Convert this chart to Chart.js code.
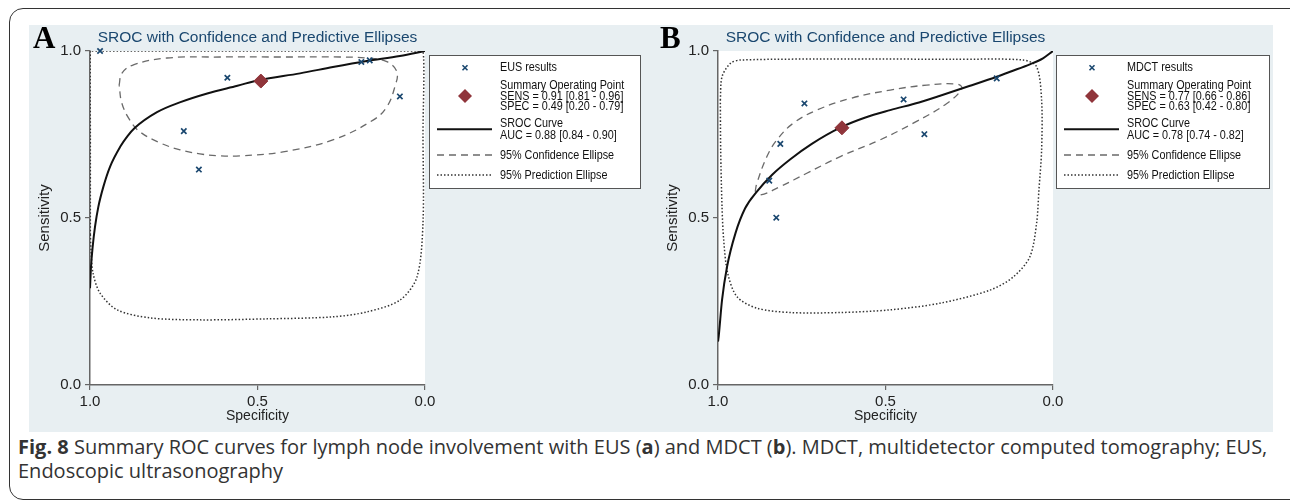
<!DOCTYPE html>
<html>
<head>
<meta charset="utf-8">
<script src="https://cdn.jsdelivr.net/npm/chart.js@4/dist/chart.umd.min.js"></script>
<style>
  body { margin: 0; background: #fff; width: 1290px; height: 504px; overflow: hidden; position: relative; font-family: "Liberation Sans", Arial, sans-serif; }
  #frame { position: absolute; left: 9px; top: 8px; width: 1320px; height: 490px; border: 1.5px solid #333; border-radius: 14px; }
  #panel { position: absolute; left: 29px; top: 25px; width: 1244px; height: 407px; background: #e8eff2; }
  canvas { position: absolute; top: 25px; }
  #chartA { left: 29px; }
  #chartB { left: 650px; }
  #caption { position: absolute; left: 18px; top: 435px; width: 1270px; font-family: "Open Sans", sans-serif; font-size: 20px; line-height: 24px; color: #333; white-space: nowrap; }
</style>
</head>
<body>
<div id="frame"></div>
<div id="panel"></div>
<canvas id="chartA" width="621" height="407"></canvas>
<canvas id="chartB" width="623" height="407"></canvas>
<div id="caption"><b>Fig. 8</b> Summary ROC curves for lymph node involvement with EUS (<b>a</b>) and MDCT (<b>b</b>). MDCT, multidetector computed tomography; EUS,<br>Endoscopic ultrasonography</div>

<script>
// ---- data (x = specificity, y = sensitivity) ----
const tickLabels = ['0.0', '0.5', '1.0'];
const titleText = 'SROC with Confidence and Predictive Ellipses';

// panel A : EUS
const eusSpec = [0.97, 0.59, 0.72, 0.675, 0.19, 0.165, 0.075];
const eusSens = [1.0, 0.92, 0.76, 0.645, 0.967, 0.972, 0.864];
const eusSummarySpec = [0.49];
const eusSummarySens = [0.91];
const eusSrocSpec = [1.0, 0.997, 0.992, 0.985, 0.975, 0.96, 0.94, 0.91, 0.888, 0.866, 0.8, 0.73, 0.65, 0.56, 0.495, 0.373, 0.275, 0.174, 0.075, 0.0];
const eusSrocSens = [0.29, 0.354, 0.414, 0.474, 0.534, 0.594, 0.654, 0.713, 0.745, 0.77, 0.817, 0.847, 0.873, 0.896, 0.913, 0.933, 0.952, 0.97, 0.985, 1.0];
const eusConfSpec = [0.913, 0.905, 0.872, 0.77, 0.612, 0.433, 0.254, 0.173, 0.114, 0.084, 0.09, 0.114, 0.155, 0.275, 0.424, 0.552, 0.612, 0.672, 0.731, 0.791, 0.851, 0.881, 0.905, 0.913];
const eusConfSens = [0.898, 0.933, 0.958, 0.979, 0.982, 0.982, 0.982, 0.979, 0.968, 0.938, 0.893, 0.833, 0.793, 0.734, 0.698, 0.686, 0.686, 0.692, 0.704, 0.725, 0.758, 0.793, 0.844, 0.898];
const eusPredSpec = [0.999, 0.999, 0.999, 0.75, 0.5, 0.25, 0.006, 0.006, 0.006, 0.024, 0.075, 0.173, 0.275, 0.472, 0.672, 0.821, 0.919, 0.97, 0.991, 0.997, 0.999];
const eusPredSens = [0.45, 0.75, 1.0, 1.0, 1.0, 1.0, 1.0, 0.75, 0.485, 0.323, 0.254, 0.219, 0.204, 0.198, 0.195, 0.201, 0.225, 0.275, 0.335, 0.404, 0.45];
const eusLegend = [
  ['EUS results'],
  ['Summary Operating Point', 'SENS = 0.91 [0.81 - 0.96]', 'SPEC = 0.49 [0.20 - 0.79]'],
  ['SROC Curve', 'AUC = 0.88 [0.84 - 0.90]'],
  ['95% Confidence Ellipse'],
  ['95% Prediction Ellipse']
];

// panel B : MDCT
const mdctSpec = [0.742, 0.446, 0.384, 0.814, 0.847, 0.826, 0.168];
const mdctSens = [0.843, 0.855, 0.751, 0.722, 0.612, 0.501, 0.918];
const mdctSummarySpec = [0.63];
const mdctSummarySens = [0.77];
const mdctSrocSpec = [1.0, 0.998, 0.988, 0.973, 0.948, 0.919, 0.884, 0.839, 0.784, 0.72, 0.632, 0.56, 0.486, 0.4, 0.337, 0.25, 0.168, 0.128, 0.069, 0.03, 0.0];
const mdctSrocSens = [0.13, 0.145, 0.254, 0.354, 0.454, 0.529, 0.579, 0.629, 0.676, 0.722, 0.772, 0.801, 0.823, 0.846, 0.866, 0.895, 0.923, 0.938, 0.96, 0.978, 1.0];
const mdctConfSpec = [0.889, 0.884, 0.854, 0.824, 0.775, 0.705, 0.605, 0.486, 0.377, 0.287, 0.272, 0.317, 0.417, 0.516, 0.635, 0.735, 0.814, 0.874, 0.889];
const mdctConfSens = [0.579, 0.604, 0.684, 0.734, 0.784, 0.823, 0.858, 0.883, 0.898, 0.901, 0.888, 0.843, 0.784, 0.734, 0.684, 0.634, 0.594, 0.569, 0.579];
const mdctPredSpec = [0.993, 0.988, 0.963, 0.933, 0.605, 0.3, 0.089, 0.049, 0.034, 0.034, 0.042, 0.049, 0.069, 0.118, 0.188, 0.337, 0.486, 0.635, 0.784, 0.884, 0.943, 0.971, 0.983, 0.988, 0.992, 0.993];
const mdctPredSens = [0.853, 0.923, 0.963, 0.973, 0.976, 0.975, 0.973, 0.953, 0.853, 0.704, 0.584, 0.484, 0.384, 0.324, 0.284, 0.245, 0.225, 0.217, 0.217, 0.23, 0.264, 0.334, 0.434, 0.534, 0.704, 0.853];
const mdctLegend = [
  ['MDCT results'],
  ['Summary Operating Point', 'SENS = 0.77 [0.66 - 0.86]', 'SPEC = 0.63 [0.42 - 0.80]'],
  ['SROC Curve', 'AUC = 0.78 [0.74 - 0.82]'],
  ['95% Confidence Ellipse'],
  ['95% Prediction Ellipse']
];

const NAVY = '#1a476f';
const MAROON = '#90353b';

function pts(xs, ys) {
  return xs.map((x, i) => ({ x: x, y: ys[i] }));
}

// white plot region
const plotBg = {
  id: 'plotBg',
  beforeDraw(chart) {
    const a = chart.chartArea, ctx = chart.ctx;
    ctx.save();
    ctx.fillStyle = '#fff';
    ctx.fillRect(a.left, a.top, a.right - a.left, a.bottom - a.top);
    ctx.restore();
  }
};

// panel letter, title and the boxed legend on the right
const panelDeco = {
  id: 'panelDeco',
  afterDraw(chart, args, o) {
    const ctx = chart.ctx, a = chart.chartArea;
    ctx.save();
    ctx.fillStyle = '#000';
    ctx.font = 'bold 31px "Liberation Serif", serif';
    ctx.textBaseline = 'alphabetic';
    ctx.textAlign = 'left';
    ctx.fillText(o.letter, o.letterX, 23);

    ctx.fillStyle = NAVY;
    ctx.font = '15.5px "Liberation Sans", Arial, sans-serif';
    ctx.textAlign = 'center';
    ctx.textBaseline = 'middle';
    ctx.fillText(titleText, (a.left + a.right) / 2, 13);

    // legend box
    const bx = o.boxX, by = 30, bw = o.boxW, bh = 133;
    ctx.fillStyle = '#fff';
    ctx.fillRect(bx, by, bw, bh);
    ctx.strokeStyle = '#555';
    ctx.lineWidth = 1;
    ctx.strokeRect(bx + 0.5, by + 0.5, bw, bh);

    const rows = [[12.7], [30, 41, 51.7], [68.3, 80], [100], [120]];
    const symY = [12.7, 41, 74.3, 100, 120];
    ctx.font = '13.5px "Liberation Sans", Arial, sans-serif';
    ctx.textAlign = 'left';
    ctx.fillStyle = '#111';
    o.items.forEach((lines, i) => {
      lines.forEach((t, j) => {
        const w = ctx.measureText(t).width * 0.8;
        ctx.fillText(t, bx + 71, by + rows[i][j], w);
      });
      const sy = by + symY[i], sx = bx + 36;
      ctx.setLineDash([]);
      if (i === 0) {
        ctx.strokeStyle = NAVY; ctx.lineWidth = 1.6;
        ctx.beginPath();
        ctx.moveTo(sx - 2.5, sy - 2.5); ctx.lineTo(sx + 2.5, sy + 2.5);
        ctx.moveTo(sx + 2.5, sy - 2.5); ctx.lineTo(sx - 2.5, sy + 2.5);
        ctx.stroke();
      } else if (i === 1) {
        ctx.fillStyle = MAROON;
        ctx.beginPath();
        ctx.moveTo(sx, sy - 7); ctx.lineTo(sx + 7, sy); ctx.lineTo(sx, sy + 7); ctx.lineTo(sx - 7, sy);
        ctx.closePath(); ctx.fill();
        ctx.fillStyle = '#111';
      } else {
        if (i === 2) { ctx.strokeStyle = '#111'; ctx.lineWidth = 2; }
        if (i === 3) { ctx.strokeStyle = '#6a6a6a'; ctx.lineWidth = 1.3; ctx.setLineDash([7, 5]); }
        if (i === 4) { ctx.strokeStyle = '#333'; ctx.lineWidth = 1.5; ctx.setLineDash([1.5, 2]); }
        ctx.beginPath();
        ctx.moveTo(bx + 8, sy); ctx.lineTo(bx + 63, sy);
        ctx.stroke();
      }
    });
    ctx.restore();
  }
};

function makeChart(id, d) {
  const ctx = document.getElementById(id).getContext('2d');
  return new Chart(ctx, {
    type: 'scatter',
    data: {
      datasets: [
        { data: pts(d.sumX, d.sumY), pointStyle: 'rectRot', pointRadius: 7, backgroundColor: MAROON, borderColor: MAROON, borderWidth: 1, clip: 10 },
        { data: pts(d.obsX, d.obsY), pointStyle: 'crossRot', pointRadius: 3.8, borderColor: NAVY, borderWidth: 1.7, clip: 10 },
        { data: pts(d.srocX, d.srocY), showLine: true, pointRadius: 0, borderColor: '#111', borderWidth: 2, cubicInterpolationMode: 'monotone' },
        { data: pts(d.confX, d.confY), showLine: true, pointRadius: 0, borderColor: '#6a6a6a', borderWidth: 1.3, borderDash: [7, 5], tension: 0.4 },
        { data: pts(d.predX, d.predY), showLine: true, pointRadius: 0, borderColor: '#333', borderWidth: 1.5, borderDash: [1.5, 2], tension: 0.3 }
      ]
    },
    options: {
      responsive: false,
      animation: false,
      events: [],
      layout: { padding: { top: 26, right: d.padRight, bottom: 0, left: 0 } },
      plugins: {
        legend: { display: false },
        tooltip: { enabled: false },
        panelDeco: { letter: d.letter, letterX: d.letterX, boxX: d.boxX, boxW: d.boxW, items: d.legend }
      },
      scales: {
        x: {
          type: 'linear', min: 0, max: 1, reverse: true,
          afterFit: function (s) { s.height = 47; },
          ticks: { stepSize: 0.5, padding: 3, color: '#222', font: { size: 15, family: '"Liberation Sans", Arial' },
            callback: function (v) { return tickLabels[Math.round(v * 2)]; } },
          grid: { drawOnChartArea: false, drawTicks: true, tickLength: 5, color: '#666', lineWidth: 1.2 },
          border: { display: true, color: '#666', width: 1.5 },
          title: { display: true, text: 'Specificity', color: '#222', padding: { top: 0, bottom: 7 }, font: { size: 14, family: '"Liberation Sans", Arial' } }
        },
        y: {
          type: 'linear', min: 0, max: 1,
          afterFit: function (s) { s.width = d.yWidth; },
          ticks: { stepSize: 0.5, padding: 4, color: '#222', font: { size: 15, family: '"Liberation Sans", Arial' },
            callback: function (v) { return tickLabels[Math.round(v * 2)]; } },
          grid: { drawOnChartArea: false, drawTicks: true, tickLength: 5, color: '#666', lineWidth: 1.2 },
          border: { display: true, color: '#666', width: 1.5 },
          title: { display: true, text: 'Sensitivity', color: '#222', padding: { top: d.yTitlePad, bottom: 0 }, font: { size: 15, family: '"Liberation Sans", Arial' } }
        }
      }
    },
    plugins: [plotBg, panelDeco]
  });
}

makeChart('chartA', {
  obsX: eusSpec, obsY: eusSens, sumX: eusSummarySpec, sumY: eusSummarySens,
  srocX: eusSrocSpec, srocY: eusSrocSens, confX: eusConfSpec, confY: eusConfSens,
  predX: eusPredSpec, predY: eusPredSens, legend: eusLegend,
  letter: 'A', letterX: 4, boxX: 400, boxW: 211, padRight: 225, yWidth: 61, yTitlePad: 7
});

makeChart('chartB', {
  obsX: mdctSpec, obsY: mdctSens, sumX: mdctSummarySpec, sumY: mdctSummarySens,
  srocX: mdctSrocSpec, srocY: mdctSrocSens, confX: mdctConfSpec, confY: mdctConfSens,
  predX: mdctPredSpec, predY: mdctPredSens, legend: mdctLegend,
  letter: 'B', letterX: 10, boxX: 406, boxW: 213, padRight: 220, yWidth: 68, yTitlePad: 14
});
</script>
</body>
</html>
